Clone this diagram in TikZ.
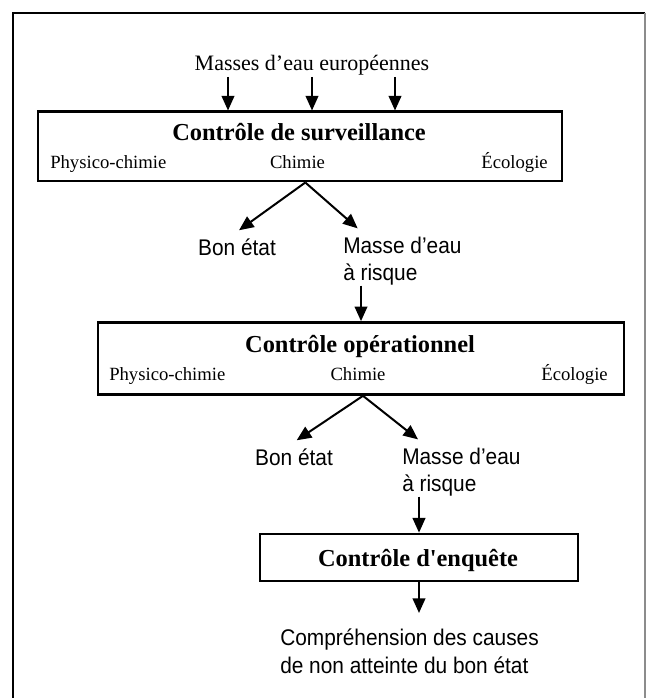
\documentclass[tikz,border=0pt]{standalone}
\usepackage{fontspec}
\setmainfont{Liberation Serif}[Ligatures=TeXOff]
\newfontfamily\arialfont{Liberation Sans}[FakeStretch=0.92]
\usetikzlibrary{arrows.meta}

\begin{document}
\begin{tikzpicture}[x=0.75pt, y=-0.75pt,
    arr/.style={line width=1.5pt, -{Triangle[length=11pt,width=9.5pt]}},
    ctrlbox/.style={shape=rectangle, draw=black, line width=2pt, inner sep=0pt},
    headtext/.style={font=\fontsize{16.5}{20}\selectfont, inner sep=0pt},
    boxtitle/.style={font=\bfseries\fontsize{18.3}{22}\selectfont, inner sep=0pt},
    subtext/.style={font=\fontsize{14}{16}\selectfont, inner sep=0pt},
    outcome/.style={font=\arialfont\fontsize{17}{20.7}\selectfont, align=left, inner sep=0pt}]

    \useasboundingbox (0,0) rectangle (646,698);
    \draw[line width=1.5pt] (13,698) -- (13,13) -- (645,13);
    \draw[black!45, line width=0.8pt] (645,13) -- (645,698);

    \node[headtext] (head) at (312,65) {Masses d’eau européennes};

    \node[ctrlbox, minimum width=393pt, minimum height=52pt] (surv) at (300,146.5) {};
    \node[boxtitle, anchor=base] (survtitle) at (299,141) {Contrôle de surveillance};
    \node[subtext, anchor=base west] (survphys) at (50,169) {Physico-chimie};
    \node[subtext, anchor=base] (survchim) at (297.5,169) {Chimie};
    \node[subtext, anchor=base east] (survecol) at (548,169) {Écologie};

    \node[outcome] (bon1) at (237,247) {Bon état};
    \node[outcome, anchor=west] (risk1) at (343,261) {Masse d’eau\\à risque};

    \node[ctrlbox, minimum width=394.5pt, minimum height=54pt] (ops) at (361,358.5) {};
    \node[boxtitle, anchor=base] (opstitle) at (360,352) {Contrôle opérationnel};
    \node[subtext, anchor=base west] (opsphys) at (109,380) {Physico-chimie};
    \node[subtext, anchor=base] (opschim) at (358,380) {Chimie};
    \node[subtext, anchor=base east] (opsecol) at (608,380) {Écologie};

    \node[outcome] (bon2) at (294,457) {Bon état};
    \node[outcome, anchor=west] (risk2) at (402,472) {Masse d’eau\\à risque};

    \node[ctrlbox, minimum width=238.5pt, minimum height=35.3pt] (enq) at (419,557.5) {};
    \node[boxtitle, anchor=base] (enqtitle) at (418,566) {Contrôle d'enquête};

    \node[outcome, anchor=west] (causes) at (280,651.5) {Compréhension des causes\\de non atteinte du bon état};

    % entrées
    \foreach \x [count=\i] in {228,312,395} {
        \coordinate (in\i) at (\x,77);
        \draw[arr] (in\i) -- (in\i |- surv.north);
    }

    \draw[arr] ([xshift=4pt]surv.south) -- ([xshift=1.5pt,yshift=6pt]bon1.north);
    \draw[arr] ([xshift=4pt]surv.south) -- ([xshift=11pt,yshift=6pt]risk1.north west);
    \draw[arr] (risk1.south -| ops.north) -- (ops.north);

    \draw[arr] ([xshift=1.5pt]ops.south) -- ([xshift=2pt,yshift=6pt]bon2.north);
    \draw[arr] ([xshift=1.5pt]ops.south) -- ([xshift=12pt,yshift=6pt]risk2.north west);
    \draw[arr] (risk2.south -| enq.north) -- (enq.north);

    \draw[arr, shorten >=12pt] (enq.south) -- (enq.south |- causes.north);

\end{tikzpicture}
\end{document}
